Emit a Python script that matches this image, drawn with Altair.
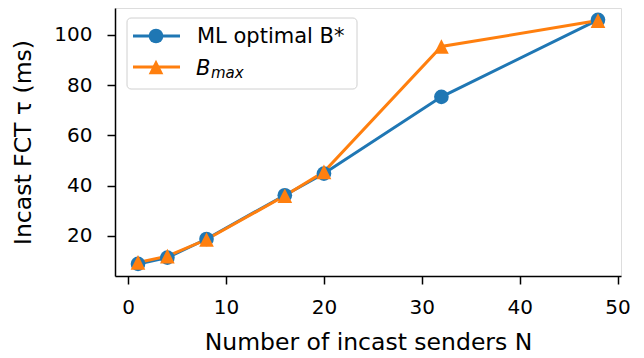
import altair as alt
import pandas as pd

senders = [1, 4, 8, 16, 20, 32, 48]
ml_optimal = [8.9, 11.4, 18.8, 36.2, 44.8, 75.3, 105.9]
b_max = [9.5, 12.0, 18.6, 36.0, 45.5, 95.3, 105.6]

series_names = ["ML optimal B*", "B_max"]
colors = ["#1f77b4", "#ff7f0e"]

rows = []
for n, a, b in zip(senders, ml_optimal, b_max):
    rows.append({"N": n, "tau": a, "series": series_names[0]})
    rows.append({"N": n, "tau": b, "series": series_names[1]})
df = pd.DataFrame(rows)

FONT = "DejaVu Sans"
TRI = "M0,-1L-1,1L1,1Z"
CIRCLE_SIZE = 215
TRI_SIZE = 215

xscale = alt.Scale(domain=[-1.35, 50.35], nice=False, zero=False)
yscale = alt.Scale(domain=[4.1, 110.6], nice=False, zero=False)
cscale = alt.Scale(domain=series_names, range=colors)

xaxis = alt.Axis(values=[0, 10, 20, 30, 40, 50], title="Number of incast senders N",
                 grid=False, tickSize=8, tickWidth=1.5, tickColor="black",
                 domainColor="black", domainWidth=1.5, labelFontSize=20,
                 labelColor="black", labelPadding=13, labelFont=FONT,
                 titleFont=FONT, titleFontSize=23.5, titleFontWeight="normal",
                 titleColor="black", titlePadding=13)
yaxis = alt.Axis(values=[20, 40, 60, 80, 100], title="Incast FCT τ (ms)",
                 grid=False, tickSize=8, tickWidth=1.5, tickColor="black",
                 domainColor="black", domainWidth=1.5, labelFontSize=20,
                 labelColor="black", labelPadding=15, labelFont=FONT,
                 titleFont=FONT, titleFontSize=23.5, titleFontWeight="normal",
                 titleColor="black", titlePadding=18)

base = alt.Chart(df)

lines = base.mark_line(strokeWidth=3).encode(
    x=alt.X("N:Q", scale=xscale, axis=xaxis),
    y=alt.Y("tau:Q", scale=yscale, axis=yaxis),
    color=alt.Color("series:N", scale=cscale, legend=None),
    detail="series:N",
)

circles = base.transform_filter(alt.datum.series == series_names[0]).mark_point(
    shape="circle", filled=True, size=CIRCLE_SIZE, opacity=1, color=colors[0]
).encode(x=alt.X("N:Q", scale=xscale), y=alt.Y("tau:Q", scale=yscale))

triangles = base.transform_filter(alt.datum.series == series_names[1]).mark_point(
    shape=TRI, filled=True, size=TRI_SIZE, opacity=1, color=colors[1]
).encode(x=alt.X("N:Q", scale=xscale), y=alt.Y("tau:Q", scale=yscale))

# legend (drawn inside the plot, like matplotlib's)
one = alt.Data(values=[{"k": 1}])
legend_box = alt.Chart(one).mark_rect(
    fill="white", fillOpacity=0.8, stroke="#d0d0d0", strokeWidth=1, cornerRadius=4
).encode(x=alt.value(12), x2=alt.value(242), y=alt.value(10), y2=alt.value(81))

leg_line1 = alt.Chart(one).mark_rule(color=colors[0], strokeWidth=3).encode(
    x=alt.value(18), x2=alt.value(65), y=alt.value(28))
leg_line2 = alt.Chart(one).mark_rule(color=colors[1], strokeWidth=3).encode(
    x=alt.value(18), x2=alt.value(65), y=alt.value(59))
leg_pt1 = alt.Chart(one).mark_point(shape="circle", filled=True, size=CIRCLE_SIZE, opacity=1,
                                    color=colors[0]).encode(x=alt.value(41), y=alt.value(28))
leg_pt2 = alt.Chart(one).mark_point(shape=TRI, filled=True, size=TRI_SIZE, opacity=1,
                                    color=colors[1]).encode(x=alt.value(41), y=alt.value(59))
leg_txt1 = alt.Chart(one).mark_text(align="left", baseline="alphabetic", font=FONT,
                                    fontSize=21, color="black").encode(
    x=alt.value(82), y=alt.value(35), text=alt.value("ML optimal B*"))
leg_txt2 = alt.Chart(one).mark_text(align="left", baseline="alphabetic", font=FONT,
                                    fontSize=21, fontStyle="italic", color="black").encode(
    x=alt.value(81), y=alt.value(67), text=alt.value("B"))
leg_txt3 = alt.Chart(one).mark_text(align="left", baseline="alphabetic", font=FONT,
                                    fontSize=15, fontStyle="italic", color="black").encode(
    x=alt.value(96), y=alt.value(70), text=alt.value("max"))

chart = alt.layer(
    lines, circles, triangles, legend_box, leg_line1, leg_line2, leg_pt1, leg_pt2,
    leg_txt1, leg_txt2, leg_txt3
).properties(
    width=506, height=268,
    autosize=alt.AutoSizeParams(type="none"),
    padding={"left": 107, "top": 0, "right": 10, "bottom": 80},
).configure_view(stroke="black", strokeWidth=1.5).configure(background="white")

chart.save("out.html", embed_options={"renderer": "svg", "actions": False})
